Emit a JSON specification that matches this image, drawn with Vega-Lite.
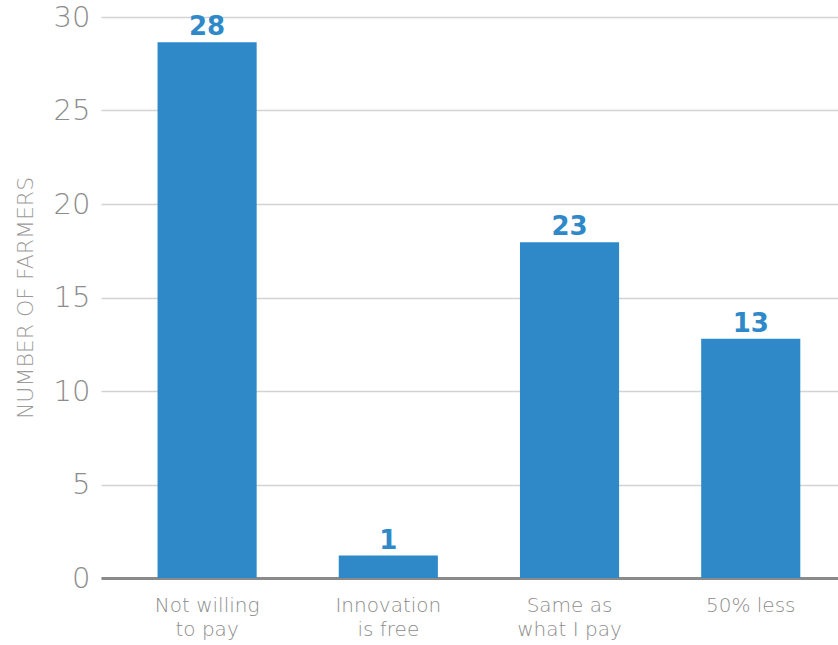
{
  "$schema": "https://vega.github.io/schema/vega-lite/v6.json",
  "width": 737,
  "height": 561,
  "autosize": {"type": "none"},
  "padding": {"left": 101, "top": 17, "right": 0, "bottom": 67},
  "background": "white",
  "config": {"view": {"stroke": null}, "font": "DejaVu Sans"},
  "data": {
    "values": [
      {"category": "Not willing|to pay", "farmers": 28.65, "label": "28"},
      {"category": "Innovation|is free", "farmers": 1.2, "label": "1"},
      {"category": "Same as|what I pay", "farmers": 17.95, "label": "23"},
      {"category": "50% less", "farmers": 12.8, "label": "13"}
    ]
  },
  "encoding": {
    "x": {
      "field": "category",
      "type": "nominal",
      "sort": null,
      "scale": {"paddingInner": 0.453, "paddingOuter": 0.26, "align": 0.6},
      "axis": {
        "title": null,
        "labelAngle": 0,
        "labelExpr": "split(datum.label, '|')",
        "labelFont": "DejaVu Sans",
        "labelFontWeight": 200,
        "labelFontSize": 20,
        "labelLineHeight": 24,
        "labelColor": "#8c8c8c",
        "labelPadding": 17,
        "ticks": false,
        "domainColor": "#8a8a8a",
        "domainWidth": 3,
        "grid": false
      }
    },
    "y": {
      "field": "farmers",
      "type": "quantitative",
      "scale": {"domain": [0, 30]},
      "axis": {
        "title": "NUMBER OF FARMERS",
        "titleFont": "DejaVu Sans",
        "titleFontWeight": 200,
        "titleFontSize": 22,
        "titleColor": "#9a9a9a",
        "titlePadding": 16,
        "values": [0, 5, 10, 15, 20, 25, 30],
        "labelFont": "DejaVu Sans",
        "labelFontWeight": 200,
        "labelFontSize": 29,
        "labelColor": "#8c8c8c",
        "labelPadding": 11,
        "ticks": false,
        "domain": false,
        "gridColor": "#d3d3d3",
        "gridWidth": 1.5
      }
    }
  },
  "layer": [
    {"mark": {"type": "bar", "color": "#2f89c9"}},
    {
      "mark": {"type": "text", "baseline": "alphabetic", "dy": -7, "fontSize": 26, "fontWeight": "bold", "font": "DejaVu Sans", "color": "#2f89c9"},
      "encoding": {"text": {"field": "label"}}
    }
  ]
}
